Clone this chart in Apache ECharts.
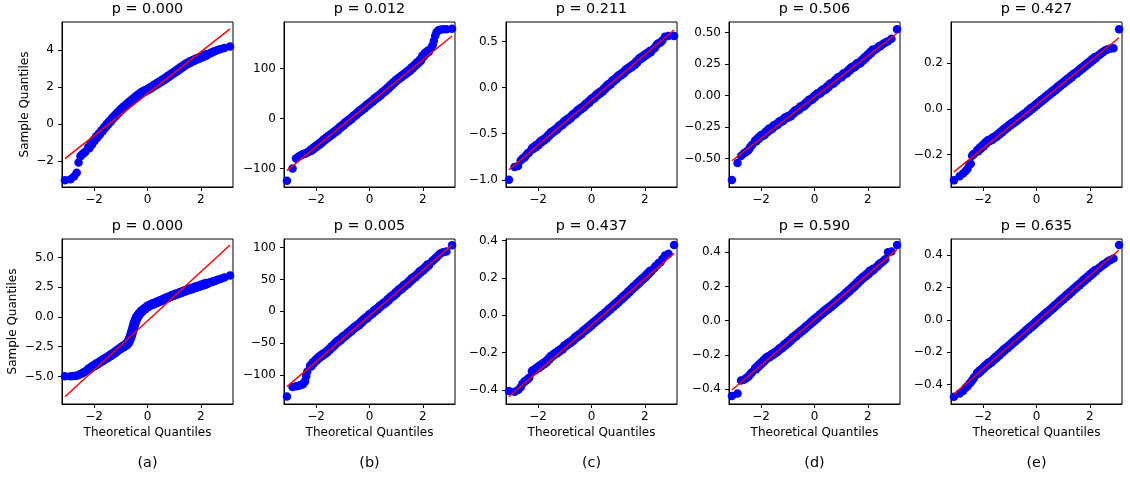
<!DOCTYPE html>
<html>
<head>
<meta charset="utf-8">
<script src="https://cdn.jsdelivr.net/npm/echarts@6/dist/echarts.min.js"></script>
<style>
html,body{margin:0;padding:0;background:#fff;}
#chart{width:1130px;height:479px;}
</style>
</head>
<body>
<div id="chart"></div>
<script>
// Theoretical quantiles (shared x positions)
const tq = [-3.09,-2.88,-2.75,-2.65,-2.58,-2.51,-2.46,-2.41,-2.37,-2.33,
  -2.2,-2.1,-2.0,-1.9,-1.8,-1.7,-1.6,-1.5,-1.4,-1.3,
  -1.2,-1.1,-1.0,-0.9,-0.8,-0.7,-0.6,-0.5,-0.4,-0.3,
  -0.2,-0.1,0,0.1,0.2,0.3,0.4,0.5,0.6,0.7,
  0.8,0.9,1.0,1.1,1.2,1.3,1.4,1.5,1.6,1.7,
  1.8,1.9,2.0,2.1,2.2,
  2.33,2.37,2.41,2.46,2.51,2.58,2.65,2.75,2.88,3.09];

// Theoretical quantiles for bottom (a), denser where the curve is steep
const tqA2 = [-3.09,-2.88,-2.75,-2.65,-2.58,-2.51,-2.46,-2.41,-2.37,-2.33,
  -2.2,-2.1,-2.0,-1.9,-1.8,-1.7,-1.6,-1.5,-1.4,-1.3,
  -1.2,-1.1,-1.0,-0.95,-0.9,-0.85,-0.8,-0.775,-0.75,-0.725,
  -0.7,-0.675,-0.65,-0.625,-0.6,-0.575,-0.55,-0.525,-0.5,-0.475,
  -0.45,-0.425,-0.4,-0.375,-0.35,-0.3,-0.25,-0.2,-0.1,0,
  0.1,0.2,0.3,0.4,0.5,0.6,0.7,0.8,0.9,1.0,
  1.1,1.2,1.3,1.4,1.5,1.6,1.7,1.8,1.9,2.0,
  2.1,2.2,2.33,2.37,2.41,2.46,2.51,2.58,2.65,2.75,
  2.88,3.09];

// Sample quantiles, top row (a)-(e)
const sampleA1 = [-3.05,-3.0,-2.85,-2.65,-2.1,-1.75,-1.68,-1.62,-1.57,-1.52,
  -1.3,-1.1,-0.9,-0.72,-0.55,-0.38,-0.2,-0.03,0.13,0.3,
  0.45,0.6,0.75,0.88,1.0,1.13,1.25,1.37,1.49,1.6,
  1.7,1.77,1.84,1.93,2.02,2.11,2.2,2.29,2.38,2.48,
  2.58,2.68,2.78,2.88,2.98,3.08,3.18,3.27,3.34,3.41,
  3.48,3.54,3.6,3.66,3.72,
  3.8,3.83,3.86,3.9,3.93,3.97,4.01,4.05,4.1,4.18];
const sampleB1 = [-124,-100,-80,-76,-74,-72,-71,-70,-69,-68,
  -64,-60,-56,-52,-48,-43,-39,-35,-31,-27,
  -23,-18,-14,-9,-5,-1,4,8,13,17,
  21,26,30,34,39,43,47,52,56,61,
  66,71,76,80,84,88,92,96,101,106,
  111,116,124,130,134,
  142,147,155,165,172,176,177,178,178,179];
const sampleC1 = [-1.0,-0.86,-0.85,-0.79,-0.77,-0.76,-0.74,-0.72,-0.71,-0.70,
  -0.66,-0.64,-0.62,-0.59,-0.57,-0.55,-0.52,-0.49,-0.47,-0.45,
  -0.42,-0.40,-0.37,-0.35,-0.33,-0.30,-0.28,-0.25,-0.23,-0.21,
  -0.18,-0.16,-0.13,-0.11,-0.08,-0.06,-0.04,-0.01,0.02,0.04,
  0.07,0.09,0.12,0.14,0.16,0.19,0.21,0.23,0.25,0.28,
  0.31,0.33,0.35,0.37,0.39,
  0.42,0.43,0.45,0.47,0.48,0.49,0.51,0.55,0.56,0.56];
const sampleD1 = [-0.67,-0.535,-0.48,-0.46,-0.45,-0.44,-0.43,-0.41,-0.40,-0.39,
  -0.36,-0.34,-0.32,-0.31,-0.29,-0.27,-0.26,-0.24,-0.23,-0.21,
  -0.20,-0.18,-0.17,-0.16,-0.14,-0.12,-0.11,-0.09,-0.08,-0.06,
  -0.04,-0.03,-0.01,0.01,0.02,0.04,0.05,0.07,0.09,0.10,
  0.12,0.14,0.15,0.17,0.18,0.20,0.22,0.23,0.25,0.26,
  0.28,0.30,0.32,0.34,0.36,
  0.37,0.38,0.39,0.39,0.40,0.41,0.42,0.43,0.45,0.525];
const sampleE1 = [-0.313,-0.295,-0.283,-0.272,-0.262,-0.245,-0.24,-0.205,-0.2,-0.196,
  -0.183,-0.172,-0.162,-0.15,-0.14,-0.135,-0.127,-0.12,-0.11,-0.1,
  -0.09,-0.082,-0.072,-0.063,-0.055,-0.046,-0.037,-0.028,-0.02,-0.01,
  0.0,0.008,0.018,0.028,0.037,0.046,0.056,0.065,0.075,0.084,
  0.094,0.103,0.112,0.122,0.131,0.14,0.15,0.158,0.168,0.177,
  0.186,0.196,0.205,0.215,0.224,
  0.234,0.238,0.242,0.246,0.25,0.256,0.26,0.263,0.265,0.348];

// Sample quantiles, bottom row (a)-(e)
const sampleA2 = [-4.98,-4.97,-4.95,-4.93,-4.88,-4.8,-4.74,-4.68,-4.63,-4.58,
  -4.4,-4.25,-4.1,-3.96,-3.82,-3.68,-3.54,-3.4,-3.25,-3.1,
  -2.95,-2.78,-2.62,-2.55,-2.48,-2.41,-2.33,-2.28,-2.22,-2.14,
  -2.04,-1.92,-1.78,-1.62,-1.44,-1.25,-1.05,-0.85,-0.65,-0.47,
  -0.32,-0.18,-0.06,0.04,0.12,0.27,0.4,0.52,0.7,0.87,
  0.98,1.08,1.18,1.28,1.37,1.47,1.57,1.66,1.76,1.85,
  1.94,2.02,2.1,2.18,2.26,2.34,2.42,2.5,2.57,2.65,
  2.72,2.8,2.89,2.92,2.95,2.99,3.03,3.08,3.14,3.22,
  3.32,3.48];
const sampleB2 = [-134,-119,-118,-117,-116,-115,-113,-110,-102,-95,
  -86,-81,-77,-73,-70,-67,-64,-60,-56,-52,
  -48,-45,-41,-38,-34,-31,-27,-24,-21,-17,
  -13,-10,-6,-3,1,4,8,11,14,18,
  22,25,29,33,36,40,43,47,51,54,
  58,62,65,69,73,
  78,80,81,83,85,88,91,93,94,104];
const sampleC2 = [-0.405,-0.41,-0.40,-0.385,-0.365,-0.355,-0.35,-0.345,-0.34,-0.335,
  -0.3,-0.29,-0.28,-0.27,-0.26,-0.25,-0.235,-0.22,-0.21,-0.2,
  -0.19,-0.18,-0.165,-0.155,-0.145,-0.135,-0.12,-0.11,-0.1,-0.085,
  -0.075,-0.063,-0.05,-0.038,-0.026,-0.014,-0.002,0.01,0.022,0.035,
  0.047,0.06,0.073,0.086,0.099,0.112,0.126,0.14,0.153,0.166,
  0.18,0.193,0.205,0.22,0.235,
  0.25,0.258,0.265,0.27,0.28,0.285,0.3,0.32,0.33,0.377];
const sampleD2 = [-0.44,-0.425,-0.35,-0.345,-0.34,-0.33,-0.325,-0.315,-0.305,-0.3,
  -0.28,-0.265,-0.25,-0.235,-0.22,-0.21,-0.2,-0.19,-0.18,-0.165,
  -0.155,-0.14,-0.128,-0.115,-0.1,-0.088,-0.075,-0.062,-0.05,-0.035,
  -0.022,-0.008,0.005,0.018,0.032,0.045,0.058,0.07,0.082,0.095,
  0.108,0.121,0.135,0.148,0.162,0.176,0.19,0.205,0.22,0.235,
  0.25,0.262,0.275,0.29,0.3,
  0.315,0.32,0.33,0.335,0.34,0.35,0.36,0.4,0.405,0.443];
const sampleE2 = [-0.475,-0.455,-0.44,-0.42,-0.41,-0.395,-0.385,-0.375,-0.365,-0.355,
  -0.33,-0.315,-0.3,-0.285,-0.27,-0.26,-0.245,-0.23,-0.215,-0.2,
  -0.185,-0.172,-0.158,-0.143,-0.128,-0.114,-0.1,-0.085,-0.07,-0.056,
  -0.042,-0.028,-0.013,0.001,0.016,0.03,0.044,0.059,0.073,0.088,
  0.102,0.117,0.131,0.146,0.16,0.175,0.19,0.204,0.218,0.233,
  0.248,0.262,0.276,0.29,0.304,
  0.32,0.325,0.33,0.337,0.344,0.35,0.36,0.37,0.38,0.464];

// Reference (fit) lines: y at x = fitX[0] and fitX[1]
const fitX = [-3.09, 3.09];
const fitStart = [-1.88, -104, -0.891, -0.517, -0.276, -6.70, -118.5, -0.436, -0.405, -0.46];
const fitEnd   = [5.14, 164.7, 0.624, 0.494, 0.311, 6.05, 104.2, 0.332, 0.417, 0.433];

// Titles
const pValues = ['0.000','0.012','0.211','0.506','0.427','0.000','0.005','0.437','0.590','0.635'];
const panelLabels = ['(a)','(b)','(c)','(d)','(e)'];

// Axis limits and ticks
const xLimits = [-3.2, 3.2];
const xTicks = [-2, 0, 2];
const yMin = [-3.42, -136.7, -1.078, -0.725, -0.342, -7.31, -145.8, -0.475, -0.487, -0.52];
const yMax = [5.51, 192.6, 0.711, 0.583, 0.38, 6.55, 113.7, 0.409, 0.478, 0.501];
const yTicks = [
  [-2,0,2,4], [-100,0,100], [-1.0,-0.5,0.0,0.5], [-0.5,-0.25,0,0.25,0.5], [-0.2,0,0.2],
  [-5,-2.5,0,2.5,5], [-100,-50,0,50,100], [-0.4,-0.2,0,0.2,0.4], [-0.4,-0.2,0,0.2,0.4], [-0.4,-0.2,0,0.2,0.4]
];
const yDecimals = [0,0,1,2,1, 1,0,1,1,1];

const samples = [sampleA1,sampleB1,sampleC1,sampleD1,sampleE1,sampleA2,sampleB2,sampleC2,sampleD2,sampleE2];
const xPositions = [tq,tq,tq,tq,tq,tqA2,tq,tq,tq,tq];

// Layout
const colLeft = [62, 284, 506, 729, 951];
const rowTop = [22, 239];
const yNameX = [25, 13];
const W = 171, H = 165;
const FONT = '"DejaVu Sans", sans-serif';

function fmt(v, d) {
  const s = Math.abs(v).toFixed(d);
  return (v < 0 ? '\u2212' : '') + s;
}
// markers overlap more in the dense central part of a QQ plot
function markerSize(val) {
  return Math.abs(val[0]) <= 2.25 ? 10 : 8.5;
}

const grids = [], xAxes = [], yAxes = [], series = [], graphics = [];
for (let i = 0; i < 10; i++) {
  const r = Math.floor(i / 5), c = i % 5;
  grids.push({left: colLeft[c], top: rowTop[r], width: W, height: H,
    show: true, borderColor: '#000', borderWidth: 1, backgroundColor: 'transparent', containLabel: false});
  xAxes.push({type: 'value', gridIndex: i, min: xLimits[0], max: xLimits[1],
    axisLine: {show: true, onZero: false, lineStyle: {color: '#000', width: 1}},
    axisTick: {show: true, length: 4, customValues: xTicks, lineStyle: {color: '#000'}},
    axisLabel: {show: true, customValues: xTicks, margin: 7, color: '#000', fontSize: 12, fontFamily: FONT,
      formatter: v => fmt(v, 0)},
    splitLine: {show: false}});
  const dec = yDecimals[i];
  yAxes.push({type: 'value', gridIndex: i, min: yMin[i], max: yMax[i],
    axisLine: {show: true, onZero: false, lineStyle: {color: '#000', width: 1}},
    axisTick: {show: true, length: 4, customValues: yTicks[i], lineStyle: {color: '#000'}},
    axisLabel: {show: true, customValues: yTicks[i], margin: 8, color: '#000', fontSize: 12, fontFamily: FONT,
      formatter: v => fmt(v, dec)},
    splitLine: {show: false}});
  const xs = xPositions[i];
  series.push({type: 'scatter', xAxisIndex: i, yAxisIndex: i,
    data: xs.map((x, k) => [x, samples[i][k]]),
    symbol: 'circle', symbolSize: markerSize, itemStyle: {color: '#0000ff', opacity: 1}, z: 2, silent: true});
  series.push({type: 'line', xAxisIndex: i, yAxisIndex: i,
    data: [[fitX[0], fitStart[i]], [fitX[1], fitEnd[i]]],
    showSymbol: false, symbol: 'none', lineStyle: {color: '#ff0000', width: 1.5}, z: 3, silent: true});
  // title
  graphics.push({type: 'text', x: colLeft[c] + W / 2, y: rowTop[r] - 12.5, z: 10,
    style: {text: 'p = ' + pValues[i], align: 'center', verticalAlign: 'middle', fontSize: 14.4, fontFamily: FONT, fill: '#000'}});
}
// y axis names
for (let r = 0; r < 2; r++) {
  graphics.push({type: 'text', x: yNameX[r], y: rowTop[r] + H / 2, rotation: Math.PI / 2, z: 10,
    style: {text: 'Sample Quantiles', align: 'center', verticalAlign: 'middle', fontSize: 12, fontFamily: FONT, fill: '#000'}});
}
// x axis names (bottom row) and panel labels
for (let c = 0; c < 5; c++) {
  graphics.push({type: 'text', x: colLeft[c] + W / 2, y: rowTop[1] + H + 29, z: 10,
    style: {text: 'Theoretical Quantiles', align: 'center', verticalAlign: 'middle', fontSize: 12, fontFamily: FONT, fill: '#000'}});
  graphics.push({type: 'text', x: colLeft[c] + W / 2, y: 463, z: 10,
    style: {text: panelLabels[c], align: 'center', verticalAlign: 'middle', fontSize: 14.4, fontFamily: FONT, fill: '#000'}});
}

const chart = echarts.init(document.getElementById('chart'), null, {renderer: 'canvas'});
chart.setOption({
  animation: false,
  backgroundColor: '#fff',
  grid: grids, xAxis: xAxes, yAxis: yAxes, series: series, graphic: graphics
});
</script>
</body>
</html>
